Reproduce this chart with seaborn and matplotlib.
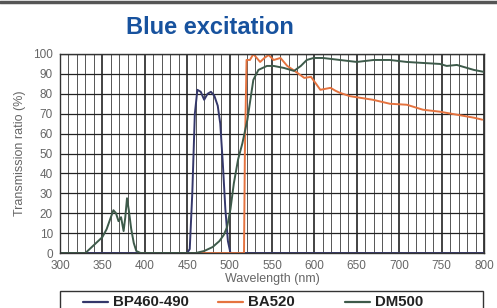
import matplotlib
matplotlib.use("Agg")
import matplotlib.pyplot as plt
import seaborn as sns
import pandas as pd
from matplotlib.lines import Line2D
from matplotlib.patches import Rectangle
from matplotlib.ticker import MultipleLocator

# ── Data ─────────────────────────────────────────────────────────────────────
bp_nm = [300, 450, 453, 456, 459, 462, 466, 470, 474, 478, 482, 486, 489, 492, 495, 498, 501, 505, 800]
bp_val = [0, 0, 2, 30, 70, 82, 81, 77, 80, 81, 79, 74, 65, 45, 22, 6, 0, 0, 0]

ba_nm = [455, 517, 518, 520, 524, 528, 532, 536, 541, 546, 552, 560, 568, 575, 580, 588, 596,
         602, 607, 613, 619, 625, 630, 642, 654, 669, 689, 709, 728, 748, 768, 788, 798]
ba_val = [0, 0, 50, 97, 97, 100, 98, 96, 98, 99.5, 97, 98, 94, 92, 90.5, 88, 88.5,
          85, 82, 82.5, 83, 81.5, 80.5, 78.8, 78, 77, 75, 74.5, 72, 71, 69.5, 68, 67]

dm_nm = [300, 330, 335, 340, 345, 350, 355, 360, 363, 366, 369, 372, 375, 377, 379, 381, 384,
         387, 390, 395, 460, 470, 480, 488, 493, 497, 501, 505, 510, 515, 521, 528, 534, 544,
         552, 564, 576, 584, 591, 599, 610, 630, 650, 670, 689, 709, 728, 748, 756, 768, 780,
         788, 800]
dm_val = [0, 0, 2, 4, 6, 8, 12, 18, 21.5, 20, 16, 18, 11, 18, 27.5, 22, 12,
          5, 1, 0, 0, 1, 3, 6, 9, 13, 22, 35, 47, 55, 67, 87, 92, 94,
          94, 93, 91.5, 94, 97, 98, 98, 97, 96, 97, 97, 96, 95.5, 95, 94, 94.5, 93,
          92, 91]

SERIES = ["BP460-490", "BA520", "DM500"]
COLORS = ["#34376a", "#e5733f", "#3d5a4a"]

df = pd.concat([
    pd.DataFrame({"Wavelength": bp_nm, "T": bp_val, "Filter": SERIES[0]}),
    pd.DataFrame({"Wavelength": ba_nm, "T": ba_val, "Filter": SERIES[1]}),
    pd.DataFrame({"Wavelength": dm_nm, "T": dm_val, "Filter": SERIES[2]}),
], ignore_index=True)

# ── Plot ─────────────────────────────────────────────────────────────────────
sns.set_theme(style="white")
plt.rcParams["font.family"] = ["Liberation Sans", "DejaVu Sans"]

W, H = 497, 308
fig = plt.figure(figsize=(W / 100, H / 100), dpi=100)
ax = fig.add_axes([60 / W, 1 - 253 / H, 424 / W, 199 / H])

sns.lineplot(data=df, x="Wavelength", y="T", hue="Filter", hue_order=SERIES,
             palette=dict(zip(SERIES, COLORS)), estimator=None, sort=False,
             lw=1.4, ax=ax, legend=False)

ax.set_xlim(300, 800)
ax.set_ylim(0, 100)
ax.xaxis.set_major_locator(MultipleLocator(50))
ax.xaxis.set_minor_locator(MultipleLocator(10))
ax.yaxis.set_major_locator(MultipleLocator(10))
ax.grid(which="major", axis="x", color="#222222", lw=1.2)
ax.grid(which="minor", axis="x", color="#3a3a3a", lw=0.6)
ax.grid(which="major", axis="y", color="#222222", lw=0.9)
ax.set_axisbelow(True)
for s in ax.spines.values():
    s.set_color("#333333")
    s.set_linewidth(1.0)
ax.tick_params(which="both", length=0, labelsize=8.5, labelcolor="#666666", pad=5)

ax.set_xlabel("Wavelength (nm)", fontsize=9, color="#666666", labelpad=1)
ax.set_ylabel("Transmission ratio (%)", fontsize=9, color="#666666", labelpad=5)

# title and top rule
fig.text(0.423, 0.912, "Blue excitation", ha="center", va="center", fontsize=17,
         fontweight="bold", color="#17529e",
         family=["Liberation Sans Narrow", "Liberation Sans", "DejaVu Sans"])
fig.add_artist(Line2D([0, 1], [0.995, 0.995], color="#555555", lw=2.5,
                      transform=fig.transFigure))

# legend frame (runs off the bottom edge like the reference)
fig.add_artist(Rectangle((60 / W, -0.05), 423 / W, 0.05 + 1 - 291 / H,
                         transform=fig.transFigure, fill=False,
                         edgecolor="#333333", lw=1.0))
leg_x = [83, 218, 345]   # left end of each legend key, px
leg_y = 1 - 301.5 / H
for name, color, x0 in zip(SERIES, COLORS, leg_x):
    fig.add_artist(Line2D([x0 / W, (x0 + 25) / W], [leg_y, leg_y], color=color,
                          lw=1.6, transform=fig.transFigure))
    fig.text((x0 + 30) / W, leg_y, name, ha="left", va="center", fontsize=10.8,
             fontweight="bold", color="#222222")

plt.savefig("out.png", dpi=100)
plt.close()
